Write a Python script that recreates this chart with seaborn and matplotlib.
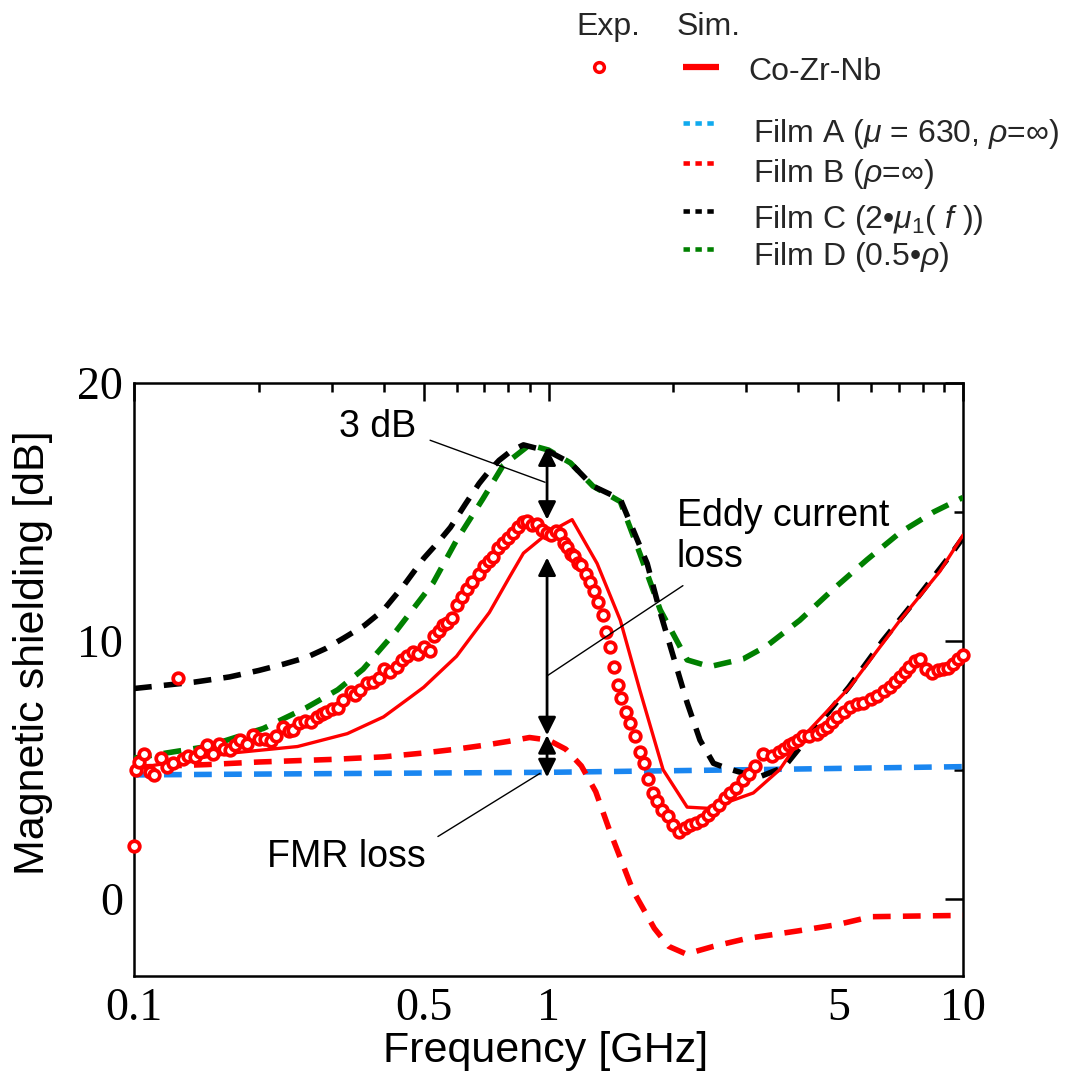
import numpy as np
import pandas as pd
import matplotlib
matplotlib.use("Agg")
import matplotlib.pyplot as plt
import seaborn as sns
from matplotlib.lines import Line2D
from matplotlib.ticker import FixedLocator, FixedFormatter, NullFormatter

# ---------------- data ----------------
# Experimental Co-Zr-Nb (open circles)
exp_f = [0.100, 0.101, 0.103, 0.106, 0.109, 0.112, 0.116, 0.120, 0.124, 0.128,
         0.131, 0.135, 0.140, 0.144, 0.150, 0.155, 0.160, 0.165, 0.170, 0.175,
         0.180, 0.187, 0.194, 0.200, 0.207, 0.214, 0.220, 0.229, 0.236, 0.242,
         0.250, 0.258, 0.267, 0.276, 0.284, 0.291, 0.300, 0.310, 0.320, 0.333,
         0.342, 0.350, 0.364, 0.377, 0.390, 0.400, 0.415, 0.430, 0.443, 0.456,
         0.470, 0.485, 0.500, 0.518, 0.530, 0.545, 0.557, 0.570, 0.585, 0.600,
         0.618, 0.636, 0.655, 0.680, 0.700, 0.718, 0.735, 0.755, 0.777, 0.800,
         0.820, 0.845, 0.868, 0.887, 0.910, 0.940, 0.965, 0.990, 1.015, 1.040,
         1.066, 1.090, 1.108, 1.130, 1.150, 1.175, 1.200, 1.230, 1.260, 1.290,
         1.320, 1.350, 1.380, 1.410, 1.440, 1.470, 1.500, 1.540, 1.570, 1.620,
         1.660, 1.700, 1.740, 1.790, 1.830, 1.880, 1.940, 2.000, 2.070, 2.130,
         2.200, 2.270, 2.340, 2.420, 2.500, 2.580, 2.660, 2.740, 2.840, 2.950,
         3.050, 3.150, 3.290, 3.470, 3.600, 3.700, 3.800, 3.900, 4.000, 4.110,
         4.250, 4.440, 4.570, 4.690, 4.830, 4.960, 5.150, 5.330, 5.550, 5.740,
         6.000, 6.200, 6.450, 6.670, 6.850, 7.050, 7.250, 7.400, 7.650, 7.870,
         8.160, 8.440, 8.700, 8.950, 9.200, 9.450, 9.700, 10.00]
exp_db = [2.05, 5.0, 5.3, 5.6, 4.9, 4.8, 5.45, 5.1, 5.25, 8.55,
          5.4, 5.55, 5.5, 5.7, 5.95, 5.6, 6.0, 5.8, 5.75, 5.95,
          6.15, 6.0, 6.35, 6.2, 6.2, 6.1, 6.3, 6.65, 6.5, 6.55,
          6.8, 6.9, 6.85, 7.05, 7.15, 7.25, 7.35, 7.4, 7.7, 8.0,
          7.9, 8.1, 8.35, 8.4, 8.55, 8.9, 8.8, 9.0, 9.25, 9.4,
          9.55, 9.5, 9.75, 9.6, 10.2, 10.4, 10.6, 10.7, 10.9, 11.4,
          11.7, 12.0, 12.3, 12.6, 12.9, 13.1, 13.25, 13.6, 13.8, 14.0,
          14.2, 14.4, 14.6, 14.65, 14.5, 14.55, 14.3, 14.2, 14.1, 14.25,
          14.15, 13.8, 13.65, 13.35, 13.3, 13.0, 12.95, 12.6, 12.3, 11.95,
          11.5, 11.0, 10.35, 9.75, 9.0, 8.3, 7.8, 7.25, 6.8, 6.3,
          5.7, 5.25, 4.65, 4.1, 3.8, 3.45, 3.2, 2.85, 2.6, 2.75,
          2.85, 2.95, 3.05, 3.25, 3.45, 3.65, 3.9, 4.1, 4.3, 4.6,
          4.85, 5.15, 5.6, 5.55, 5.7, 5.8, 5.95, 6.05, 6.15, 6.3,
          6.3, 6.4, 6.55, 6.65, 6.85, 7.05, 7.25, 7.45, 7.55, 7.6,
          7.75, 7.85, 8.05, 8.2, 8.4, 8.6, 8.8, 9.0, 9.2, 9.3,
          8.9, 8.75, 8.85, 8.9, 8.95, 9.1, 9.3, 9.45]

# Simulation Co-Zr-Nb (solid red)
sim_f = [0.1, 0.17, 0.248, 0.327, 0.4, 0.463, 0.5, 0.6, 0.72, 0.807, 0.87, 1.0,
         1.14, 1.31, 1.49, 1.66, 1.89, 2.16, 2.45, 3.12, 3.61, 4.04, 5.33, 7.05,
         8.8, 10.0]
sim_db = [5.05, 5.64, 5.9, 6.4, 7.05, 7.8, 8.2, 9.4, 11.1, 12.5, 13.4, 14.2,
          14.7, 13.0, 10.8, 8.1, 5.0, 3.55, 3.5, 4.1, 5.0, 6.15, 8.2, 10.8,
          12.7, 14.1]

# Film A (mu = 630, rho = inf)
filmA_f = [0.1, 0.3, 1.0, 3.0, 10.0]
filmA_db = [4.8, 4.85, 4.9, 5.0, 5.12]

# Film B (rho = inf)
filmB_f = [0.1, 0.15, 0.2, 0.3, 0.4, 0.5, 0.6, 0.7, 0.8, 0.9, 1.0, 1.1, 1.2,
           1.3, 1.4, 1.6, 1.8, 1.95, 2.15, 2.5, 3.0, 4.0, 5.0, 6.0, 8.0, 10.0]
filmB_db = [5.1, 5.2, 5.3, 5.4, 5.5, 5.65, 5.8, 5.95, 6.1, 6.25, 6.15, 5.8,
            5.15, 4.15, 2.7, 0.3, -1.15, -1.85, -2.15, -1.85, -1.55, -1.25,
            -1.0, -0.7, -0.67, -0.65]

# Film C (2*mu1(f))
filmC_f = [0.1, 0.14, 0.17, 0.2, 0.23, 0.26, 0.29, 0.32, 0.36, 0.4, 0.45,
           0.5, 0.54, 0.58, 0.63, 0.68, 0.72, 0.76, 0.81, 0.87, 1.0, 1.13,
           1.28, 1.49, 1.73, 1.86, 2.0, 2.16, 2.32, 2.5, 2.7, 3.2, 3.7, 4.4,
           5.3, 6.4, 7.7, 9.3, 10.0]
filmC_db = [8.15, 8.4, 8.6, 8.85, 9.1, 9.35, 9.7, 10.1, 10.6, 11.2, 12.2,
            13.2, 13.8, 14.4, 15.3, 16.1, 16.6, 17.0, 17.35, 17.6, 17.35, 16.9,
            16.0, 15.5, 13.0, 11.1, 9.4, 7.6, 6.15, 5.25, 5.05, 4.7, 5.1, 6.6,
            8.2, 10.0, 11.6, 13.3, 14.0]

# Film D (0.5*rho)
filmD_f = [0.1, 0.15, 0.205, 0.26, 0.31, 0.357, 0.43, 0.527, 0.6, 0.694,
           0.777, 0.9, 1.0, 1.13, 1.28, 1.49, 1.66, 1.86, 2.16, 2.45, 2.95,
           3.36, 4.04, 4.86, 5.87, 7.05, 8.5, 10.0]
filmD_db = [5.45, 5.9, 6.6, 7.4, 8.1, 8.9, 10.4, 12.25, 13.9, 15.5, 16.8,
            17.6, 17.4, 16.9, 16.0, 15.4, 13.4, 11.2, 9.26, 9.0, 9.3, 9.8,
            10.8, 12.0, 13.15, 14.2, 15.0, 15.56]

x_major = [0.1, 0.5, 1, 5, 10]
x_major_labels = ["0.1", "0.5", "1", "5", "10"]
x_minor = [0.2, 0.3, 0.4, 0.6, 0.7, 0.8, 0.9, 2, 3, 4, 6, 7, 8, 9]
y_major = [0, 10, 20]
y_major_labels = ["0", "10", "20"]
y_minor = [5, 15]

# ---------------- style ----------------
sns.set_theme(style="white")
plt.rcParams["font.family"] = ["Liberation Sans", "DejaVu Sans"]
plt.rcParams["mathtext.fontset"] = "custom"
plt.rcParams["mathtext.rm"] = "Liberation Sans"
plt.rcParams["mathtext.it"] = "Liberation Sans:italic"
plt.rcParams["mathtext.bf"] = "Liberation Sans:bold"

W, H = 1074, 1081
fig = plt.figure(figsize=(W / 100, H / 100), dpi=100)
fig.patch.set_facecolor("white")


def fx(px):
    return px / W


def fy(py):
    return 1 - py / H


ax = fig.add_axes([fx(134), fy(976), (963 - 134) / W, (976 - 383) / H])
ax.set_facecolor("white")
ax.set_xscale("log")

DASH = (0, (3.2, 2.2))
BLUE = "#1a86f0"
GREEN = "#008000"

sns.lineplot(x=filmA_f, y=filmA_db, ax=ax, color=BLUE, lw=4, linestyle=DASH, zorder=2)
sns.lineplot(x=filmB_f, y=filmB_db, ax=ax, color="red", lw=4, linestyle=DASH, zorder=3)
sns.lineplot(x=filmD_f, y=filmD_db, ax=ax, color=GREEN, lw=4, linestyle=DASH, zorder=4)
sns.lineplot(x=filmC_f, y=filmC_db, ax=ax, color="black", lw=4, linestyle=DASH, zorder=5)
sns.lineplot(x=sim_f, y=sim_db, ax=ax, color="red", lw=2.4, zorder=6)
sns.scatterplot(x=exp_f, y=exp_db, ax=ax, marker="o", s=58, facecolor="white",
                edgecolor="red", linewidth=2.7, zorder=7, clip_on=False, legend=False)

ax.set_xlim(0.1, 10)
ax.set_ylim(-3, 20)
ax.xaxis.set_major_locator(FixedLocator(x_major))
ax.xaxis.set_major_formatter(FixedFormatter(x_major_labels))
ax.xaxis.set_minor_locator(FixedLocator(x_minor))
ax.xaxis.set_minor_formatter(NullFormatter())
ax.yaxis.set_major_locator(FixedLocator(y_major))
ax.yaxis.set_major_formatter(FixedFormatter(y_major_labels))
ax.yaxis.set_minor_locator(FixedLocator(y_minor))
ax.yaxis.set_minor_formatter(NullFormatter())

ax.tick_params(which="both", direction="in", top=True, right=True, width=1.8, color="black")
ax.tick_params(which="major", length=13, labelsize=33, pad=8)
ax.tick_params(which="minor", length=6.5)
for lbl in ax.get_xticklabels() + ax.get_yticklabels():
    lbl.set_fontfamily("Liberation Serif")
    lbl.set_color("black")
for sp in ax.spines.values():
    sp.set_linewidth(1.8)
    sp.set_color("black")
    sp.set_visible(True)

ax.set_xlabel("Frequency [GHz]", fontsize=31, color="black")
ax.set_ylabel("Magnetic shielding [dB]", fontsize=31, color="black")
ax.xaxis.set_label_coords(0.496, -0.093)
ax.yaxis.set_label_coords(-0.098, 0.546)

# ---------------- annotations ----------------
arr = dict(arrowstyle="<|-|>", color="black", lw=2, mutation_scale=27,
           shrinkA=0, shrinkB=0)
ax.annotate("", xy=(0.992, 17.5), xytext=(0.992, 14.7), arrowprops=arr, zorder=8)
ax.annotate("", xy=(0.992, 13.23), xytext=(0.992, 6.34), arrowprops=arr, zorder=8)
ax.annotate("", xy=(0.992, 6.34), xytext=(0.992, 4.71), arrowprops=arr, zorder=8)

thin = dict(arrowstyle="-", color="black", lw=1.0, shrinkA=0, shrinkB=0)
ax.annotate("", xy=(0.981, 16.15), xytext=(0.518, 17.78), arrowprops=thin, zorder=8)
ax.annotate("", xy=(0.992, 8.64), xytext=(2.11, 12.14), arrowprops=thin, zorder=8)
ax.annotate("", xy=(0.954, 4.86), xytext=(0.541, 2.41), arrowprops=thin, zorder=8)

ax.text(0.388, 18.29, "3 dB", ha="center", va="center", fontsize=27, color="black")
ax.text(2.04, 14.05, "Eddy current\nloss", ha="left", va="center", fontsize=27,
        linespacing=1.15, color="black")
ax.text(0.325, 1.6, "FMR loss", ha="center", va="center", fontsize=27, color="black")

# ---------------- legend (manual, above the axes) ----------------
LFS = 23
fig.text(fx(576), fy(35), "Exp.", fontsize=LFS, ha="left", va="baseline")
fig.text(fx(677), fy(35), "Sim.", fontsize=LFS, ha="left", va="baseline")
fig.add_artist(Line2D([fx(599)], [fy(67)], marker="o", ms=7.0, mfc="white",
                      mec="red", mew=2.5, transform=fig.transFigure))
fig.add_artist(Line2D([fx(683), fx(719)], [fy(67), fy(67)], color="red", lw=4.5,
                      solid_capstyle="butt", transform=fig.transFigure))
fig.text(fx(748), fy(80), "Co-Zr-Nb", fontsize=LFS, ha="left", va="baseline")

DOT = (0, (1.4, 1.2))
leg_items = [
    ("#10aaee", 123, 142, r"Film A ($\mu$ = 630, $\rho$=∞)"),
    ("red", 163, 182, r"Film B ($\rho$=∞)"),
    ("black", 211, 228, r"Film C (2•$\mu_{1}$$(\ f\ )$)"),
    (GREEN, 249, 265, r"Film D (0.5•$\rho$)"),
]
for col, ly, ty, lab in leg_items:
    fig.add_artist(Line2D([fx(683), fx(714)], [fy(ly), fy(ly)], color=col, lw=3.3,
                          linestyle=DOT, dash_capstyle="butt",
                          transform=fig.transFigure))
    fig.text(fx(753), fy(ty), lab, fontsize=LFS, ha="left", va="baseline")

fig.savefig("out.png", dpi=100, facecolor="white")
